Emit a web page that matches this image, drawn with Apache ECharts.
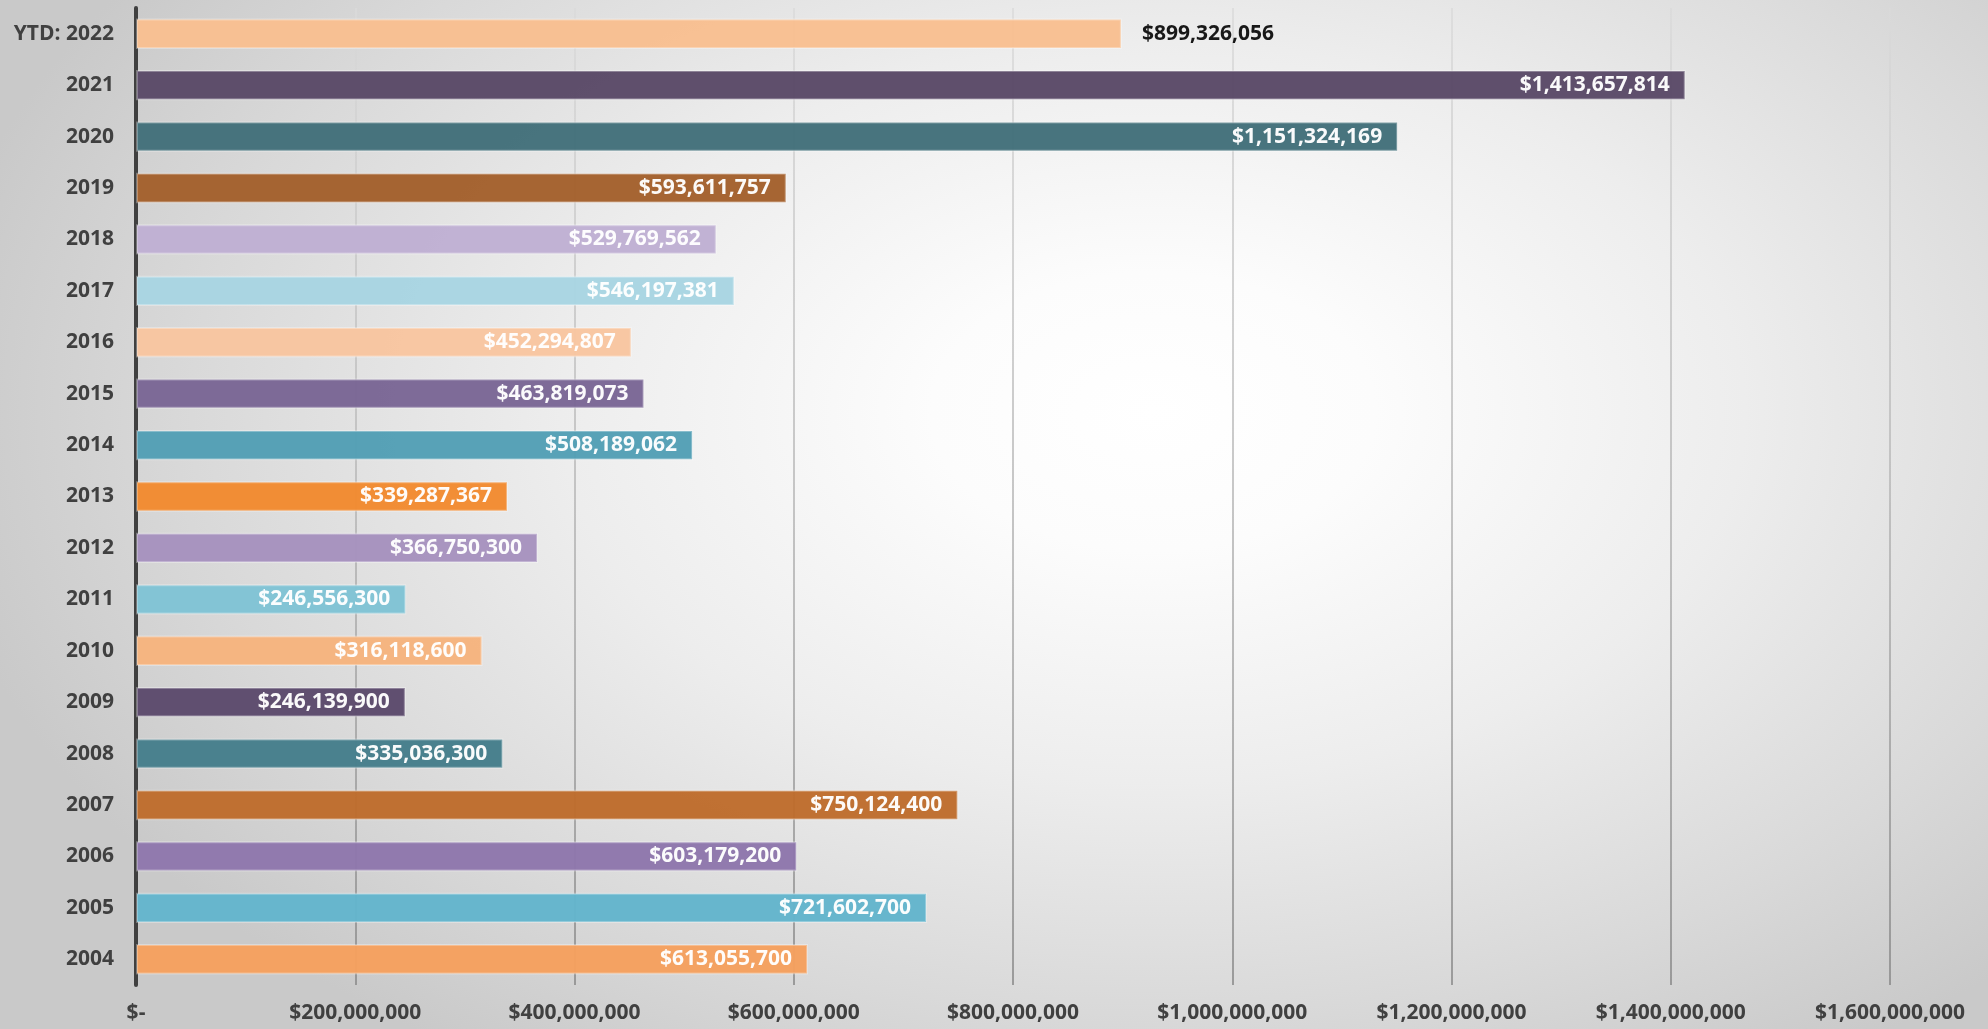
<!DOCTYPE html>
<html>
<head>
<meta charset="utf-8">
<title>Yearly totals</title>
<script src="https://cdn.jsdelivr.net/npm/echarts@6/dist/echarts.min.js"></script>
<style>
html,body{margin:0;padding:0;width:100%;height:100%;overflow:hidden;}
body{background:radial-gradient(ellipse 62% 75% at 58% 40%, #ffffff 0%, #fcfcfc 18%, #ededed 48%, #d9d9d9 78%, #c9c9c9 100%);}
#main{width:1988px;height:1029px;}
</style>
</head>
<body>
<div id="main"></div>
<script>
// years, bottom to top
var years = ['2004','2005','2006','2007','2008','2009','2010','2011','2012','2013',
	'2014','2015','2016','2017','2018','2019','2020','2021','YTD: 2022'];
var totals = [613055700,721602700,603179200,750124400,335036300,246139900,316118600,246556300,366750300,339287367,
	508189062,463819073,452294807,546197381,529769562,593611757,1151324169,1413657814,899326056];
var barColors = ['#f5a05e','#63b5cc','#8e77ac','#be6c2c','#457e8b','#5c4a6c','#f6b47e','#80c3d5','#a692be','#f28a30',
	'#539fb5','#7a6695','#f8c5a0','#a8d5e2','#bfb0d3','#a3602c','#426f7a','#5a4967','#f8bf91'];
var xTicks = [0,200000000,400000000,600000000,800000000,1000000000,1200000000,1400000000,1600000000];

var font = "'Open Sans', 'DejaVu Sans', sans-serif";

function money(v){
	if(v===0) return '$-';
	return '$' + String(v).replace(/\B(?=(\d{3})+(?!\d))/g, ',');
}

var myChart = echarts.init(document.getElementById('main'));

var barData = [];
for(var i=0;i<totals.length;i++){
	var item = {
		value: totals[i],
		itemStyle: {color: barColors[i]}
	};
	if(years[i]==='YTD: 2022'){  // this one sits outside the bar
		item.label = {position:'right', distance:20, color:'#111111'};
	}
	barData.push(item);
}

var option = {
	backgroundColor: 'transparent',
	animation: false,
	grid: {left:136, right:98, top:8, bottom:44},
	xAxis: {
		type: 'value',
		min: xTicks[0],
		max: xTicks[xTicks.length-1],
		interval: 200000000,
		axisLine: {show:false},
		axisTick: {show:false},
		axisLabel: {
			formatter: money,
			margin: 18,
			fontFamily: font,
			fontWeight: 'bold',
			fontSize: 21,
			color: '#404040'
		},
		splitLine: {
			lineStyle: {
				width: 1.5,
				color: new echarts.graphic.LinearGradient(0,0,0,1,[
					{offset:0, color:'#dadada'},
					{offset:0.5, color:'#b4b4b4'},
					{offset:1, color:'#858585'}
				])
			}
		}
	},
	yAxis: {
		type: 'category',
		data: years,
		axisLine: {lineStyle:{color:'#404040', width:4}},
		axisTick: {show:false},
		axisLabel: {
			margin: 22,
			fontFamily: font,
			fontWeight: 'bold',
			fontSize: 21,
			color: '#404040'
		},
		splitLine: {show:false}
	},
	series: [{
		type: 'bar',
		data: barData,
		barCategoryGap: '41%',
		itemStyle: {
			opacity: 0.97,
			borderColor: 'rgba(255,255,255,0.3)',
			borderWidth: 2
		},
		label: {
			show: true,
			position: 'insideRight',
			distance: 16,
			formatter: function(p){ return money(p.value); },
			fontFamily: font,
			fontWeight: 'bold',
			fontSize: 21,
			color: '#ffffff'
		}
	}]
};
myChart.setOption(option);
</script>
</body>
</html>
